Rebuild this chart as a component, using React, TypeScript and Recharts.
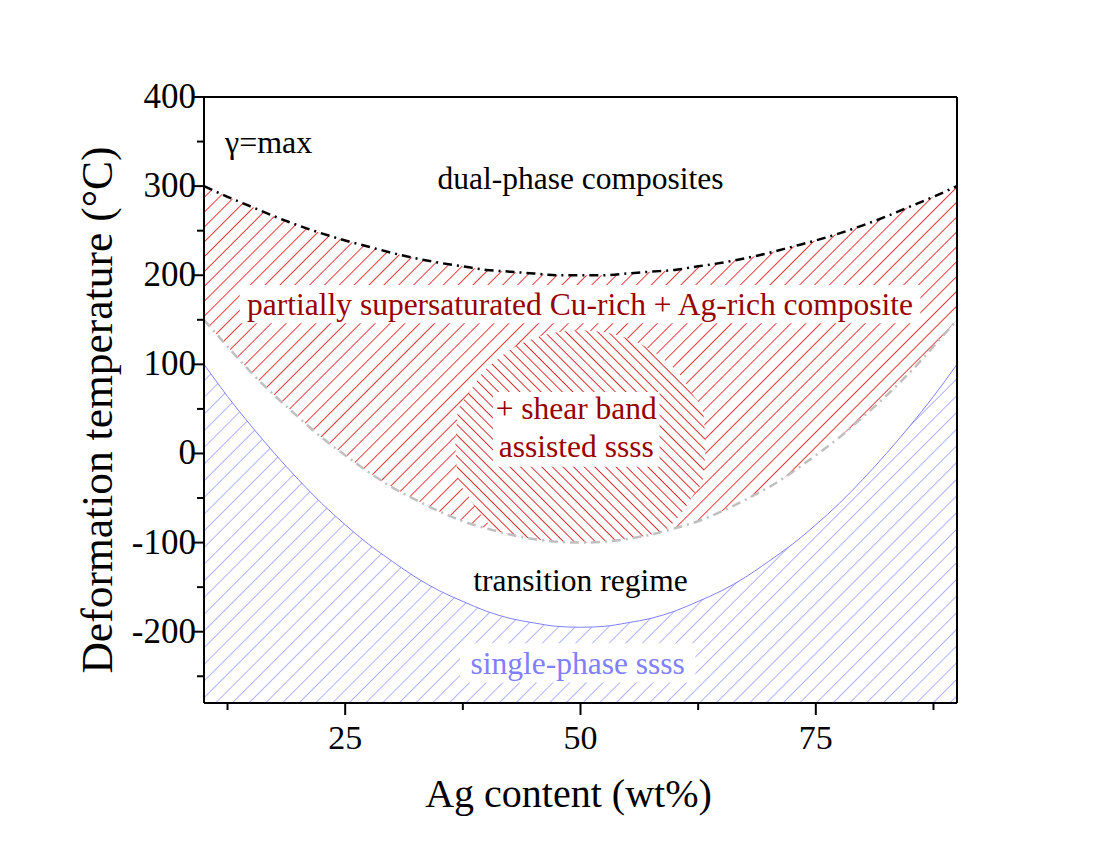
import React from 'react';
import { ComposedChart, Area, Line, XAxis, YAxis, ReferenceArea, ReferenceDot } from 'recharts';

// Ag content (wt%) sampled along the boundaries
const agContent = [10, 12.5, 15, 17.5, 20, 22.5, 25, 27.5, 30, 32.5, 35, 37.5, 40, 42.5, 45, 47.5, 50,
  52.5, 55, 57.5, 60, 62.5, 65, 67.5, 70, 72.5, 75, 77.5, 80, 82.5, 85, 87.5, 90];
// upper limit of the composite regime (black dash-dot)
const dualPhaseLimit = [300, 288, 277, 266, 256, 247, 239, 232, 225, 219, 214, 210, 206, 204, 202, 200, 200,
  200, 202, 204, 206, 210, 214, 219, 225, 232, 239, 247, 256, 266, 277, 288, 300];
// lower limit of the composite regime (grey dash-dot)
const compositeLimit = [150, 120, 91, 65, 41, 18, -2, -21, -38, -52, -65, -76, -84, -91, -96, -99, -100,
  -99, -96, -91, -84, -76, -65, -52, -38, -21, -2, 18, 41, 65, 91, 120, 150];
// upper limit of single-phase ssss (blue)
const singlePhaseLimit = [100, 64, 31, 0, -29, -56, -80, -102, -121, -139, -154, -166, -177, -185, -190, -194, -195,
  -194, -190, -185, -177, -166, -154, -139, -121, -102, -80, -56, -29, 0, 31, 64, 100];

// shear band assisted region
const shearX = [36.7, 37, 38, 39, 40, 41, 42.5, 45, 47.5, 50, 52.5, 55, 57.5, 59, 60, 61, 62, 63, 63.3];
const shearLow = [9, -29, -46, -63, -76, -86, -91, -96, -99, -100, -99, -96, -91, -86, -76, -63, -46, -29, 9];
const shearHigh = [9, 48, 65, 82, 95, 104, 116, 129, 136, 138, 136, 129, 116, 104, 95, 82, 65, 48, 9];

const xTicks = [12.5, 25, 37.5, 50, 62.5, 75, 87.5];
const xLabels = [25, 50, 75];
const yTicks = [-250, -200, -150, -100, -50, 0, 50, 100, 150, 200, 250, 300, 350, 400];
const yLabels = [-200, -100, 0, 100, 200, 300, 400];
const yMin = -280;
const yMax = 400;

const serif = "'Times New Roman', 'Liberation Serif', serif";
const darkRed = '#990000';
const hatchRed = '#e00000';
const blue = '#8080ff';
const labelSize = 31.5;

const regionData = agContent.map((x, i) => ({
  x,
  composite: [compositeLimit[i], dualPhaseLimit[i]],
  single: [yMin, singlePhaseLimit[i]],
  dual: dualPhaseLimit[i],
  comp: compositeLimit[i],
  sp: singlePhaseLimit[i],
}));
const shearData = shearX.map((x, i) => ({ x, shear: [shearLow[i], shearHigh[i]] }));

const BottomTick = ({ x, y, payload }: any) => {
  const major = xLabels.includes(payload.value);
  return (
    <g>
      <line x1={x} x2={x} y1={y} y2={y + (major ? 12 : 7)} stroke="#000" strokeWidth={2} />
      {major && (
        <text x={x} y={y + 46} textAnchor="middle" fontSize={34} fontFamily={serif} fill="#000">
          {payload.value}
        </text>
      )}
    </g>
  );
};

const TopTick = ({ x, y, payload }: any) => {
  const major = xLabels.includes(payload.value);
  return <line x1={x} x2={x} y1={y} y2={y + (major ? 12 : 7)} stroke="#000" strokeWidth={2} />;
};

const LeftTick = ({ x, y, payload }: any) => {
  const major = yLabels.includes(payload.value);
  return (
    <g>
      <line x1={x} x2={x - (major ? 12 : 7)} y1={y} y2={y} stroke="#000" strokeWidth={2} />
      {major && (
        <text x={x - 8} y={y + 11} textAnchor="end" fontSize={35} fontFamily={serif} fill="#000">
          {payload.value}
        </text>
      )}
    </g>
  );
};

const RightTick = ({ x, y, payload }: any) => {
  const major = yLabels.includes(payload.value);
  return <line x1={x} x2={x - (major ? 12 : 7)} y1={y} y2={y} stroke="#000" strokeWidth={2} />;
};

const ShearText = ({ viewBox }: any) => {
  const cx = viewBox.x + viewBox.width / 2;
  const cy = viewBox.y + viewBox.height / 2;
  return (
    <text textAnchor="middle" fontSize={labelSize} fontFamily={serif} fill={darkRed}>
      <tspan x={cx} y={cy - 10}>+ shear band</tspan>
      <tspan x={cx} y={cy + 28}>assisted ssss</tspan>
    </text>
  );
};

const XTitle = ({ viewBox }: any) => (
  <text x={viewBox.x + viewBox.width / 2 - 12} y={viewBox.y + 104} textAnchor="middle"
    fontSize={40} fontFamily={serif} fill="#000">
    Ag content (wt%)
  </text>
);

const YTitle = ({ viewBox }: any) => {
  const cx = viewBox.x + viewBox.width - 107;
  const cy = viewBox.y + viewBox.height / 2 + 10;
  return (
    <text x={cx} y={cy} transform={`rotate(-90 ${cx} ${cy})`} textAnchor="middle" dominantBaseline="central"
      fontSize={43.5} fontFamily={serif} fill="#000">
      Deformation temperature (°C)
    </text>
  );
};

export default function App() {
  return (
    <div style={{ position: 'absolute', left: 0, top: 0, background: '#fff' }}>
      <ComposedChart width={1105} height={844} margin={{ top: 67, right: 88, bottom: 111, left: 144 }}>
        <defs>
          <pattern id="redHatch" patternUnits="userSpaceOnUse" width={10.5} height={10.5} patternTransform="rotate(45)">
            <line x1={0} y1={0} x2={0} y2={10.5} stroke={hatchRed} strokeWidth={1.5} />
          </pattern>
          <pattern id="blueHatch" patternUnits="userSpaceOnUse" width={11.8} height={11.8} patternTransform="rotate(45)">
            <line x1={0} y1={0} x2={0} y2={11.8} stroke={blue} strokeWidth={1.2} />
          </pattern>
          <pattern id="shearHatch" patternUnits="userSpaceOnUse" width={7.5} height={7.5} patternTransform="rotate(-45)">
            <rect x={0} y={0} width={7.5} height={7.5} fill="#fff" />
            <line x1={0} y1={0} x2={0} y2={7.5} stroke="#d40000" strokeWidth={1.6} />
          </pattern>
        </defs>
        <XAxis dataKey="x" type="number" domain={[10, 90]} ticks={xTicks} interval={0} allowDataOverflow
          tickSize={0} tickMargin={0} tickLine={false} tick={<BottomTick />} height={30}
          axisLine={{ stroke: '#000', strokeWidth: 2 }} label={<XTitle />} />
        <XAxis xAxisId="top" orientation="top" dataKey="x" type="number" domain={[10, 90]} ticks={xTicks}
          interval={0} tickSize={0} tickMargin={0} tickLine={false} tick={<TopTick />} height={30}
          axisLine={{ stroke: '#000', strokeWidth: 2 }} />
        <YAxis type="number" domain={[yMin, yMax]} ticks={yTicks} interval={0} allowDataOverflow
          tickSize={0} tickMargin={0} tickLine={false} tick={<LeftTick />} width={60}
          axisLine={{ stroke: '#000', strokeWidth: 2 }} label={<YTitle />} />
        <YAxis yAxisId="right" orientation="right" type="number" domain={[yMin, yMax]} ticks={yTicks}
          interval={0} tickSize={0} tickMargin={0} tickLine={false} tick={<RightTick />} width={60}
          axisLine={{ stroke: '#000', strokeWidth: 2 }} />

        <Area data={regionData} dataKey="single" type="monotone" stroke="none" fill="url(#blueHatch)"
          fillOpacity={1} isAnimationActive={false} />
        <Area data={regionData} dataKey="composite" type="monotone" stroke="none" fill="url(#redHatch)"
          fillOpacity={1} isAnimationActive={false} />
        <Area data={shearData} dataKey="shear" type="monotone" stroke="none" fill="url(#shearHatch)"
          fillOpacity={1} isAnimationActive={false} />

        <Line data={regionData} dataKey="dual" type="monotone" stroke="#000" strokeWidth={2.5}
          strokeDasharray="9 5 2 5" dot={false} isAnimationActive={false} />
        <Line data={regionData} dataKey="comp" type="monotone" stroke="#c0c0c0" strokeWidth={2.5}
          strokeDasharray="9 5 2 5" dot={false} isAnimationActive={false} />
        <Line data={regionData} dataKey="sp" type="monotone" stroke={blue} strokeWidth={1}
          dot={false} isAnimationActive={false} />

        <ReferenceArea x1={13.8} x2={86.1} y1={146} y2={189} fill="#fff" fillOpacity={1} stroke="none"
          label={{ value: 'partially supersaturated Cu-rich + Ag-rich composite', position: 'center',
            fill: darkRed, fontSize: labelSize, fontFamily: serif }} />
        <ReferenceArea x1={40.7} x2={58.4} y1={-15} y2={69} fill="#fff" fillOpacity={1} stroke="none"
          label={<ShearText />} />
        <ReferenceArea x1={37.2} x2={62.2} y1={-257} y2={-213} fill="#fff" fillOpacity={1} stroke="none"
          label={{ value: 'single-phase ssss', position: 'center', fill: blue, fontSize: labelSize, fontFamily: serif }} />

        <ReferenceDot x={50} y={309} r={0} stroke="none"
          label={{ value: 'dual-phase composites', position: 'center', fill: '#000', fontSize: labelSize, fontFamily: serif }} />
        <ReferenceDot x={50} y={-142} r={0} stroke="none"
          label={{ value: 'transition regime', position: 'center', fill: '#000', fontSize: labelSize, fontFamily: serif }} />
        <ReferenceDot x={11.7} y={350} r={0} stroke="none"
          label={{ value: 'γ=max', position: 'right', fill: '#000', fontSize: 32, fontFamily: serif }} />
      </ComposedChart>
    </div>
  );
}
